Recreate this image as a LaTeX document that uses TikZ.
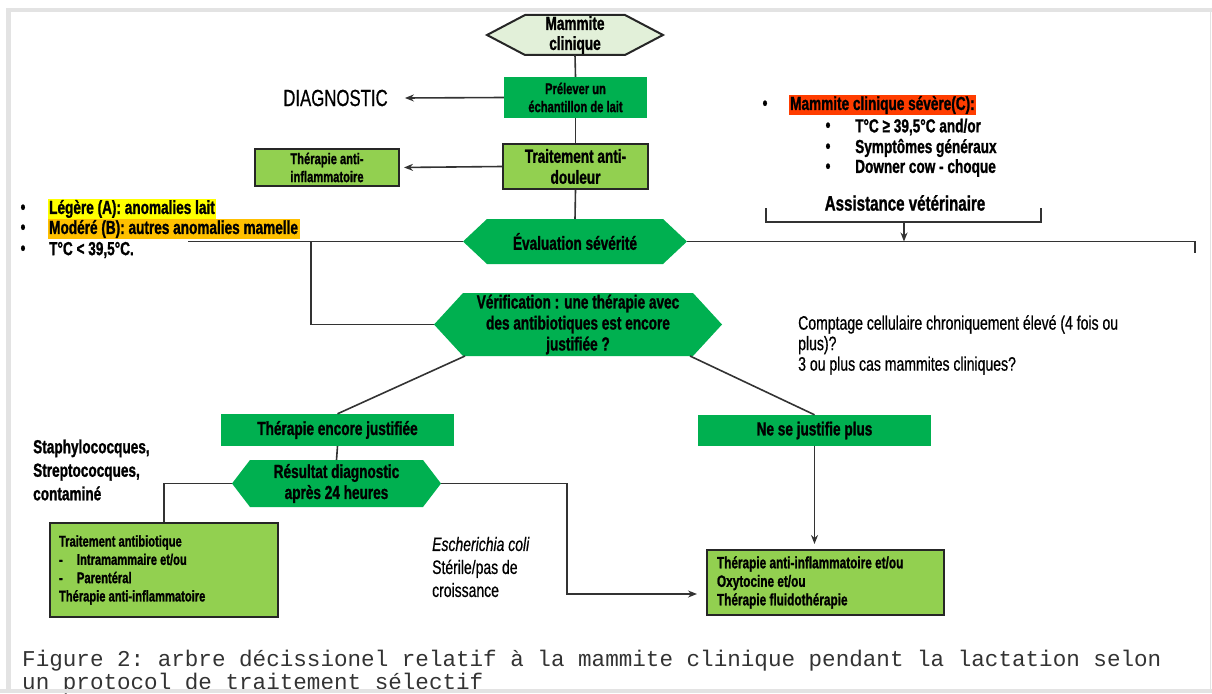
\documentclass[tikz,border=0pt]{standalone}
\usepackage{fontspec}
\setmainfont{Liberation Sans}
\setmonofont{Liberation Mono}
\newfontfamily\narrow[FakeStretch=0.72, BoldFeatures={FakeBold=1.2}]{Liberation Sans}
\newfontfamily\narrowmed[FakeStretch=0.72, FakeBold=0.6]{Liberation Sans}
\usetikzlibrary{positioning,arrows.meta,calc,backgrounds}

\definecolor{dkgreen}{HTML}{00B050}
\definecolor{ltgreen}{HTML}{92D050}
\definecolor{palegreen}{HTML}{E2F0D9}
\definecolor{hlyellow}{HTML}{FFFF00}
\definecolor{hlorange}{HTML}{FFC000}
\definecolor{hlred}{HTML}{FF3D00}
\definecolor{framegray}{HTML}{E3E3E3}

\newcommand{\fs}[2]{\fontsize{#1}{#2}\selectfont}
% hexagon behind a named node: node, inset, path options
\newcommand{\hexfill}[3]{%
  \path[#3] (#1.west) -- ([xshift=#2]#1.north west) -- ([xshift=-#2]#1.north east)
    -- (#1.east) -- ([xshift=-#2]#1.south east) -- ([xshift=#2]#1.south west) -- cycle;}

\setlength{\fboxsep}{1.5pt}

\begin{document}
\begin{tikzpicture}[x=1pt, y=-1pt,
  every node/.style={font=\narrow\bfseries},
  line/.style={draw=black!80, line width=1.6pt},
  arrow/.style={line, -{Stealth[length=9pt, width=7pt]}},
  gbox/.style={fill=dkgreen, inner sep=0pt, align=center},
  lbox/.style={fill=ltgreen, draw=black!85, line width=2pt, inner sep=0pt, align=center},
  hexnode/.style={inner sep=0pt, outer sep=0pt, align=center},
  txt/.style={inner sep=0pt, align=left, anchor=west}]

  \useasboundingbox (0,0) rectangle (1212,693);

  % frame of the screenshot
  \fill[framegray] (6,8) rectangle (11,693);
  \fill[framegray] (6,8) rectangle (1212,12);
  \draw[framegray, line width=1pt] (1210,12) -- (1210,689);

  % main column
  \node[hexnode, minimum width=176pt, minimum height=40pt, font=\narrow\bfseries\fs{18.9}{20}] (mc) at (575,35) {Mammite\\clinique};
  \node[gbox, minimum width=143pt, minimum height=41pt, font=\narrow\bfseries\fs{15.5}{18}] (prel) at (575.5,97.5) {Prélever un\\échantillon de lait};
  \node[font=\narrowmed\fs{23.3}{24}, inner xsep=17pt, inner ysep=0pt] (diag) at (335.5,98) {DIAGNOSTIC};
  \node[lbox, minimum width=145pt, minimum height=45pt, font=\narrow\bfseries\fs{18.9}{21}] (trait) at (575.5,166.5) {Traitement anti-\\douleur};
  \node[lbox, minimum width=144pt, minimum height=37pt, font=\narrow\bfseries\fs{15.5}{18}] (thera) at (327,167.5) {Thérapie anti-\\inflammatoire};
  \node[hexnode, minimum width=224pt, minimum height=45pt, font=\narrow\bfseries\fs{18.9}{20}] (eval) at (575,241.5) {Évaluation sévérité};
  \node[hexnode, minimum width=288pt, minimum height=63pt, font=\narrow\bfseries\fs{18.9}{21}] (verif) at (578,324.5) {Vérification : une thérapie avec\\des antibiotiques est encore\\justifiée ?};

  % severity A / B
  \node[font=\narrow\bfseries\fs{18.9}{20}, inner sep=0pt] (bl1) at (23,209) {•};
  \node[font=\narrow\bfseries\fs{18.9}{20}, inner sep=0pt] (bl2) at (23,229) {•};
  \node[font=\narrow\bfseries\fs{18.9}{20}, inner sep=0pt] (bl3) at (23,250) {•};
  \node[txt, font=\narrow\bfseries\fs{18.9}{20}] (sevA) at (47.5,209) {\colorbox{hlyellow}{Légère (A): anomalies lait}};
  \node[txt, font=\narrow\bfseries\fs{18.9}{20}] (sevB) at (47.5,229) {\colorbox{hlorange}{Modéré (B): autres anomalies mamelle}};
  \node[txt, font=\narrow\bfseries\fs{18.9}{20}] (tlow) at (49,250) {T°C < 39,5°C.};

  % severity C
  \node[font=\narrow\bfseries\fs{18.9}{20}, inner sep=0pt] (br0) at (765,105) {•};
  \node[txt, font=\narrow\bfseries\fs{18.9}{20}] (sevC) at (788.5,105) {\colorbox{hlred}{Mammite clinique sévère(C):}};
  \node[font=\narrow\bfseries\fs{18.9}{20}, inner sep=0pt] (br1) at (828,127) {•};
  \node[font=\narrow\bfseries\fs{18.9}{20}, inner sep=0pt] (br2) at (828,148) {•};
  \node[font=\narrow\bfseries\fs{18.9}{20}, inner sep=0pt] (br3) at (828,168) {•};
  \node[txt, font=\narrow\bfseries\fs{18.9}{20}] (thigh) at (855,127) {T°C ≥ 39,5°C and/or};
  \node[txt, font=\narrow\bfseries\fs{18.9}{20}] (sympt) at (855,148) {Symptômes généraux};
  \node[txt, font=\narrow\bfseries\fs{18.9}{20}] (downer) at (855,168) {Downer cow - choque};
  \node[font=\narrow\bfseries\fs{21}{22}, inner sep=0pt] (assist) at (905,203) {Assistance vétérinaire};
  \coordinate (brl) at (766,208);
  \coordinate (brr) at (1041,208);
  \coordinate (brm) at (904,222);

  \node[txt, font=\narrowmed\fs{19.5}{20.5}] (cc) at (798,345) {Comptage cellulaire chroniquement élevé (4 fois ou\\plus)?\\3 ou plus cas mammites cliniques?};

  % branches
  \node[gbox, minimum width=233pt, minimum height=32pt, font=\narrow\bfseries\fs{18.9}{20}] (encore) at (337.5,430) {Thérapie encore justifiée};
  \node[gbox, minimum width=233pt, minimum height=31pt, font=\narrow\bfseries\fs{18.9}{20}] (nejust) at (814.5,430.5) {Ne se justifie plus};
  \node[hexnode, minimum width=209pt, minimum height=47pt, font=\narrow\bfseries\fs{18.9}{21}] (result) at (336.5,483.5) {Résultat diagnostic\\après 24 heures};

  \node[txt, font=\narrow\bfseries\fs{18.9}{23.5}] (staph) at (33,470) {Staphylococques,\\Streptococques,\\contaminé};
  \node[txt, font=\narrowmed\fs{19.4}{23}] (ecoli) at (432,567) {\textit{Escherichia coli}\\Stérile/pas de\\croissance};

  \node[lbox, minimum width=228pt, minimum height=94pt, text width=210pt, align=left, font=\narrow\bfseries\fs{15.5}{18.3}] (anti) at (164,570)
    {\spaceskip=0pt Traitement antibiotique\\\makebox[18pt][l]{-}Intramammaire et/ou\\\makebox[18pt][l]{-}Parentéral\\Thérapie anti-inflammatoire};
  \node[lbox, minimum width=237pt, minimum height=65pt, text width=217pt, align=left, font=\narrow\bfseries\fs{16.4}{18.5}] (fluid) at (825.5,582.5)
    {\spaceskip=0pt Thérapie anti-inflammatoire et/ou\\Oxytocine et/ou\\Thérapie fluidothérapie};

  % hexagons
  \begin{scope}[on background layer]
    \hexfill{mc}{38pt}{fill=palegreen, draw=black!85, line width=2pt}
    \hexfill{eval}{24pt}{fill=dkgreen}
    \hexfill{verif}{29pt}{fill=dkgreen}
    \hexfill{result}{18pt}{fill=dkgreen}
  \end{scope}

  % connectors
  \draw[line] (mc.south) -- (prel.north);
  \draw[line] (prel.south) -- (trait.north);
  \draw[line] (trait.south) -- (eval.north);
  \draw[arrow] (prel.west) -- (diag.east);
  \draw[arrow, shorten >=4pt] (trait.west) -- (thera.east);

  \coordinate (lend) at (188,241.5);
  \coordinate (ljoin) at (311,241.5);
  \coordinate (rend) at (1195,253);
  \draw[line] (eval.west) -- (lend);
  \draw[line] (ljoin) |- (verif.west);
  \draw[line] (eval.east) -| (rend);
  \draw[line] (brl) -- ++(0,14) -| (brr);
  \draw[arrow] (brm) -- (brm |- eval.east);

  \draw[line] ($(verif.south)+(-113,0)$) -- (encore.north);
  \draw[line] ($(verif.south)+(112,0)$) -- (nejust.north);
  \draw[line] (encore.south) -- (result.north);
  \draw[line] (result.west) -| (anti.north);
  \draw[arrow, shorten >=9pt] (result.east) -- ++(126,0) |- ([yshift=-11.5pt]fluid.west);
  \draw[arrow, shorten >=5pt] (nejust.south) -- (nejust.south |- fluid.north);

  % caption
  \node[anchor=north west, inner sep=0pt, align=left, font=\ttfamily\fs{22.6}{23}, text=black!80] (cap) at (22,650)
    {Figure 2: arbre décissionel relatif à la mammite clinique pendant la lactation selon\\un protocol de traitement sélectif};
  \fill[framegray] (0,689) rectangle (1212,693);
\end{tikzpicture}
\end{document}
